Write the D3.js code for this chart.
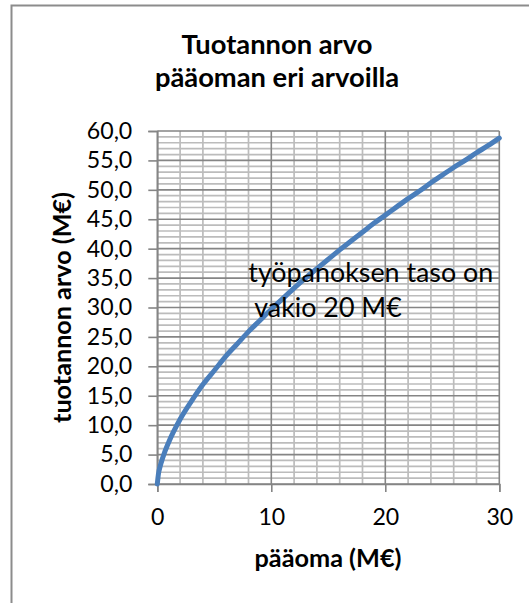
<!DOCTYPE html>
<html>
<head>
<meta charset="utf-8">
<script src="https://cdn.jsdelivr.net/npm/d3@7"></script>
<style>
  html, body { margin: 0; padding: 0; background: #fff; }
  svg { display: block; font-family: Lato, "Open Sans", sans-serif; }
</style>
</head>
<body>
<svg id="chart" width="529" height="603"></svg>
<script>
// Capital (M€) and the resulting output value (M€), labour held at 20 M€
const capital = [0, 0.1, 0.25, 0.5, 1, 2, 3, 4, 5, 6, 7, 8, 9, 10, 11, 12, 13, 14, 15,
                 16, 17, 18, 19, 20, 21, 22, 23, 24, 25, 26, 27, 28, 29, 30];
const output  = [0, 1.7, 3.0, 4.6, 7.1, 11.0, 14.1, 16.9, 19.3, 21.7, 23.8, 25.9, 27.8, 29.7,
                 31.5, 33.3, 35.0, 36.6, 38.2, 39.8, 41.3, 42.8, 44.3, 45.7, 47.1, 48.5,
                 49.8, 51.2, 52.5, 53.8, 55.0, 56.3, 57.5, 58.8];

const xTicks = [0, 10, 20, 30];
const yTicks = [0, 5, 10, 15, 20, 25, 30, 35, 40, 45, 50, 55, 60];

const titleLines = ["Tuotannon arvo", "pääoman eri arvoilla"];
const xTitle = "pääoma (M€)";
const yTitle = "tuotannon arvo (M€)";
const noteLines = ["työpanoksen taso on", "vakio 20 M€"];

const svg = d3.select("#chart");
const plot = { left: 157.3, right: 499.3, top: 131, bottom: 484 };

const x = d3.scaleLinear().domain([0, 30]).range([plot.left, plot.right]);
const y = d3.scaleLinear().domain([0, 60]).range([plot.bottom, plot.top]);

const minorCol = "#bcbcbc", majorCol = "#858585";

// scale a text element's font so that its rendered width equals `w`
function fitWidth(sel, w) {
  const node = sel.node();
  const base = parseFloat(sel.style("font-size"));
  const len = node.getComputedTextLength();
  sel.style("font-size", (base * w / len).toFixed(2) + "px");
  return sel;
}

// outer frame (left and top edges)
svg.append("path")
  .attr("d", "M11.5,603 L11.5,5.5 L529,5.5")
  .attr("fill", "none").attr("stroke", "#8c8c8c").attr("stroke-width", 2);

// minor gridlines
const g = svg.append("g");
g.selectAll("line.hmin").data(d3.range(0, 61, 1).filter(v => v % 5 !== 0))
  .join("line")
  .attr("x1", plot.left).attr("x2", plot.right)
  .attr("y1", d => y(d)).attr("y2", d => y(d))
  .attr("stroke", minorCol).attr("stroke-width", 1.7);
g.selectAll("line.vmin").data(d3.range(0, 31, 2).filter(v => v % 10 !== 0))
  .join("line")
  .attr("y1", plot.top).attr("y2", plot.bottom)
  .attr("x1", d => x(d)).attr("x2", d => x(d))
  .attr("stroke", minorCol).attr("stroke-width", 1.7);

// major gridlines
g.selectAll("line.hmaj").data(yTicks)
  .join("line")
  .attr("x1", plot.left).attr("x2", plot.right)
  .attr("y1", d => y(d)).attr("y2", d => y(d))
  .attr("stroke", majorCol).attr("stroke-width", 1.6);
g.selectAll("line.vmaj").data(xTicks)
  .join("line")
  .attr("y1", plot.top).attr("y2", plot.bottom)
  .attr("x1", d => x(d)).attr("x2", d => x(d))
  .attr("stroke", majorCol).attr("stroke-width", 1.6);

// axes
const fmt = d => d.toFixed(1).replace(".", ",");
const yAxis = svg.append("g")
  .attr("transform", `translate(${plot.left},0)`)
  .call(d3.axisLeft(y).tickValues(yTicks).tickFormat(fmt).tickSize(9).tickPadding(16));
const xAxis = svg.append("g")
  .attr("transform", `translate(0,${plot.bottom})`)
  .call(d3.axisBottom(x).tickValues(xTicks).tickFormat(d3.format("d")).tickSize(8).tickPadding(17));

[yAxis, xAxis].forEach(a => {
  a.select(".domain").attr("stroke", majorCol).attr("stroke-width", 1.6);
  a.selectAll(".tick line").attr("stroke", majorCol).attr("stroke-width", 1.6);
  a.selectAll(".tick text")
    .attr("fill", "#000")
    .style("font-family", "Lato, sans-serif")
    .style("font-size", "24px");
});
// tick label size set from the widest y label
{
  const t = yAxis.selectAll(".tick text").filter(d => d === 60);
  const len = t.node().getComputedTextLength();
  const fs = (24 * 45.5 / len).toFixed(2) + "px";
  yAxis.selectAll(".tick text").style("font-size", fs);
  xAxis.selectAll(".tick text").style("font-size", fs);
}

// data curve
const line = d3.line()
  .x((d, i) => x(capital[i]))
  .y(d => y(d))
  .curve(d3.curveMonotoneX);
svg.append("path")
  .datum(output)
  .attr("d", line)
  .attr("fill", "none")
  .attr("stroke", "#4a7ebb")
  .attr("stroke-width", 5)
  .attr("stroke-linecap", "round");

// title
const title = svg.append("text")
  .attr("text-anchor", "middle")
  .style("font-weight", "bold").style("font-size", "27px");
title.selectAll("tspan").data(titleLines).join("tspan")
  .attr("x", 277).attr("y", (d, i) => 54 + i * 33)
  .text(d => d);
{
  const len = title.select("tspan").node().getComputedTextLength();
  title.style("font-size", (27 * 191 / len).toFixed(2) + "px");
}

// axis titles
fitWidth(svg.append("text")
  .attr("x", 328).attr("y", 567)
  .attr("text-anchor", "middle")
  .style("font-weight", "bold").style("font-size", "25px")
  .text(xTitle), 147);
fitWidth(svg.append("text")
  .attr("transform", "translate(71,307.5) rotate(-90)")
  .attr("text-anchor", "middle")
  .style("font-weight", "bold").style("font-size", "25px")
  .text(yTitle), 231);

// annotation
const noteX = [248.3, 254.3];
const note = svg.append("text").style("font-size", "27px");
note.selectAll("tspan").data(noteLines).join("tspan")
  .attr("x", (d, i) => noteX[i]).attr("y", (d, i) => 281.7 + i * 35)
  .text(d => d);
{
  const len = note.select("tspan").node().getComputedTextLength();
  note.style("font-size", (27 * 245 / len).toFixed(2) + "px");
}
</script>
</body>
</html>
